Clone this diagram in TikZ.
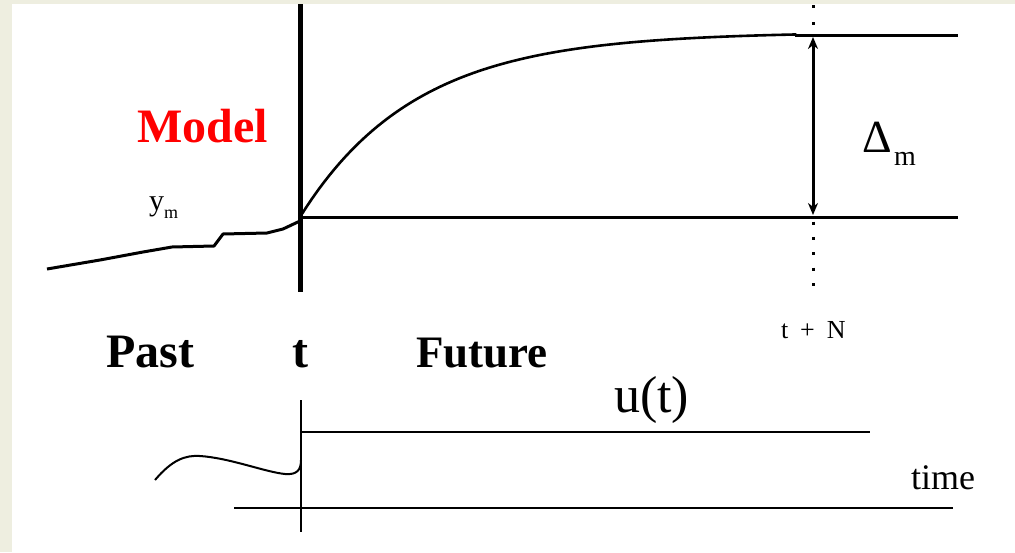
\documentclass[tikz,border=0pt]{standalone}
\usepackage{fontspec}
\setmainfont{Liberation Serif}
\usetikzlibrary{arrows.meta}
\definecolor{bgbeige}{RGB}{238,238,224}
\definecolor{modelred}{RGB}{255,0,0}
\tikzset{
  lbl/.style={inner sep=0pt, outer sep=0pt, anchor=base west},
  thickline/.style={line width=3pt, line cap=butt},
  thinline/.style={line width=2pt},
}
\newcommand{\fs}[1]{\fontsize{#1}{#1}\selectfont}
\begin{document}
\begin{tikzpicture}[x=1pt,y=-1pt]
\useasboundingbox (0,0) rectangle (1015,552);
\fill[bgbeige] (0,0) rectangle (1015,552);
\fill[white] (12,4) rectangle (1015,552);

% coordinates
\coordinate (ttop) at (300,4);
\coordinate (tbot) at (300,292);
\coordinate (base0) at (300,217);
\coordinate (base1) at (958,217);
\coordinate (top0) at (795,35);
\coordinate (top1) at (958,35);
\coordinate (arrA) at (813,37);
\coordinate (arrB) at (813,215);

% vertical "now" line
\draw[line width=5pt] (ttop) -- (tbot);
% baseline
\draw[thickline] (base0) -- (base1);
% top level line
\draw[thickline] (top0) -- (top1);
% past output
\draw[thickline, line join=round] (47,269) -- (100,260) -- (143,252) -- (172,247) -- (214,246) -- (223,234) -- (267,233) -- (283,229) -- (300,221);
% predicted response
\draw[line width=2.6pt] plot[domain=301:795, samples=90] (\x, {217 - 185*(1-exp(-(\x-300)/115))}) -- (top0);
% delta arrow
\draw[line width=3pt, {Stealth[length=12pt,width=10pt]}-{Stealth[length=12pt,width=10pt]}] (arrA) -- (arrB);
% dotted horizon line
\draw[line width=3pt, dash pattern=on 3pt off 14pt] (813,5) -- (813,34);
\draw[line width=3pt, dash pattern=on 3pt off 12.4pt] (813,221.5) -- (813,286);

% labels
\node[lbl, text=modelred] (model) at (137,142) {\fs{48}\bfseries Model};
\node[lbl] (ym) at (149,210) {\fs{30}y};
\node[lbl] (ymsub) at (164,218) {\fs{18}m};
\node[lbl] (delta) at (862,152) {\fs{46}Δ};
\node[lbl] (deltasub) at (894,165) {\fs{28}m};
\node[lbl] (tN) at (781,338) {\fs{26}t\hspace{12pt}+\hspace{12pt}N};
\node[lbl] (past) at (106,367) {\fs{48}\bfseries Past};
\node[inner sep=0pt, anchor=base] (tlbl) at (300,367) {\fs{48}\bfseries t};
\node[lbl] (future) at (416,367) {\fs{45}\bfseries Future};

% lower input plot
\coordinate (ut0) at (301,400);
\coordinate (ut1) at (301,532);
\coordinate (step0) at (301,432);
\coordinate (step1) at (870,432);
\coordinate (ax0) at (234,508);
\coordinate (ax1) at (953,508);
\draw[thinline] (ut0) -- (ut1);
\draw[thinline] (step0) -- (step1);
\draw[line width=2.6pt] (ax0) -- (ax1);
\draw[thinline] (155,480) .. controls (172,460) and (185,455) .. (200,456)
  .. controls (230,458) and (265,472) .. (285,474)
  .. controls (297,475) and (301,470) .. (301,460);
\node[lbl] (ut) at (614,412) {\fs{52}u(t)};
\node[lbl] (time) at (911,489) {\fs{36}time};
\end{tikzpicture}
\end{document}
